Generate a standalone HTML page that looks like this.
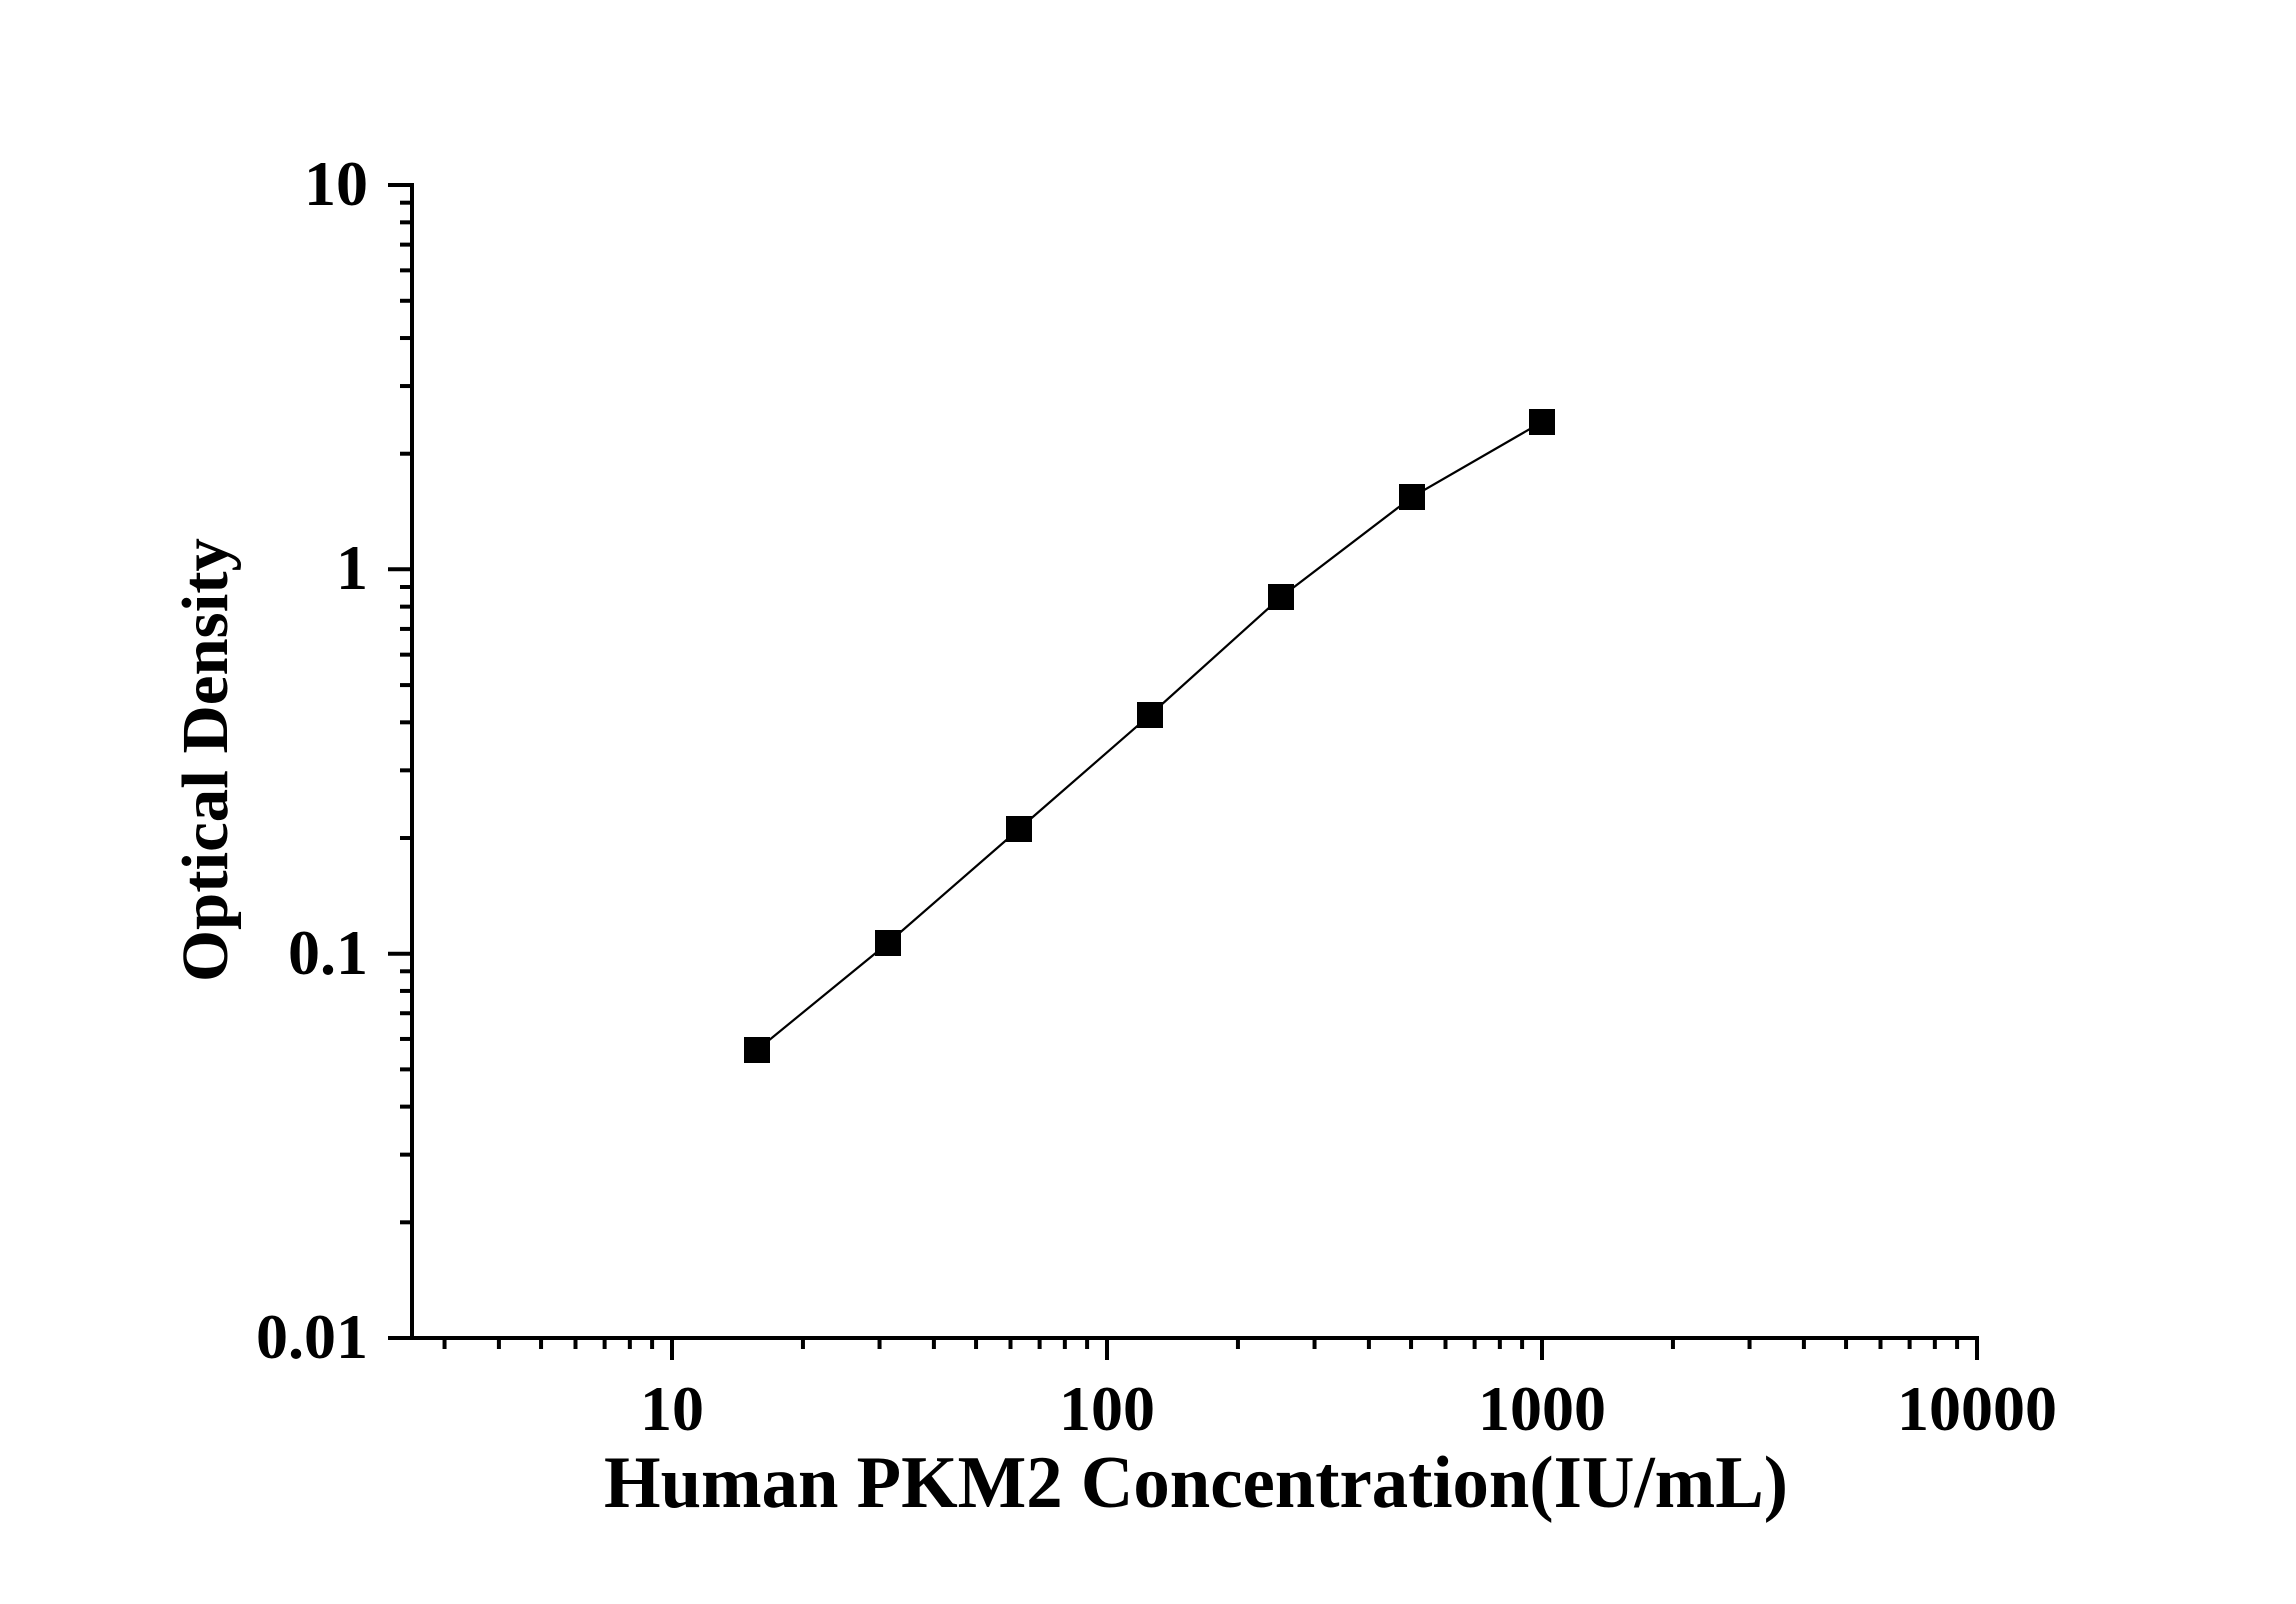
<!DOCTYPE html>
<html><head><meta charset="utf-8"><style>
html,body{margin:0;padding:0;background:#fff;}
svg{display:block;}
text{font-family:"Liberation Serif","Times New Roman",serif;font-weight:bold;fill:#000;}
</style></head><body>
<svg width="2296" height="1604" viewBox="0 0 2296 1604" xmlns="http://www.w3.org/2000/svg">
<rect width="2296" height="1604" fill="#fff"/>
<g stroke="#000" stroke-width="4" fill="none" stroke-linecap="butt">
<line x1="412" y1="183" x2="412" y2="1340"/>
<line x1="388" y1="1338" x2="1979" y2="1338"/>
<line x1="388" y1="185" x2="412" y2="185"/>
<line x1="388" y1="569.3" x2="412" y2="569.3"/>
<line x1="388" y1="953.7" x2="412" y2="953.7"/>
<line x1="672" y1="1338" x2="672" y2="1360"/>
<line x1="1107" y1="1338" x2="1107" y2="1360"/>
<line x1="1542" y1="1338" x2="1542" y2="1360"/>
<line x1="1977" y1="1336" x2="1977" y2="1360"/>
</g>
<g stroke="#000" stroke-width="4" id="minor"></g>
<polyline fill="none" stroke="#000" stroke-width="2.2" points="757,1050 888,943 1019,829 1150,715 1281,597 1412,497 1542,422"/>
<g fill="#000">
<rect x="744" y="1037" width="26" height="26"/>
<rect x="875" y="930" width="26" height="26"/>
<rect x="1006" y="816" width="26" height="26"/>
<rect x="1137" y="702" width="26" height="26"/>
<rect x="1268" y="584" width="26" height="26"/>
<rect x="1399" y="484" width="26" height="26"/>
<rect x="1529" y="409" width="26" height="26"/>
</g>
<g font-size="64" text-anchor="end">
<text x="368" y="205">10</text>
<text x="368" y="589">1</text>
<text x="368" y="974">0.1</text>
<text x="368" y="1358">0.01</text>
</g>
<g font-size="64" text-anchor="middle">
<text x="672" y="1430">10</text>
<text x="1107" y="1430">100</text>
<text x="1542" y="1430">1000</text>
<text x="1977" y="1430">10000</text>
</g>
<text x="1196" y="1507" font-size="74" text-anchor="middle" textLength="1184" lengthAdjust="spacingAndGlyphs">Human PKM2 Concentration(IU/mL)</text>
<text transform="translate(227,760) rotate(-90)" font-size="66" text-anchor="middle" textLength="444" lengthAdjust="spacingAndGlyphs">Optical Density</text>
</svg>
<script>
(function(){
var g=document.getElementById('minor'),ns='http://www.w3.org/2000/svg';
function L(a,b,c,d){var l=document.createElementNS(ns,'line');l.setAttribute('x1',a);l.setAttribute('y1',b);l.setAttribute('x2',c);l.setAttribute('y2',d);g.appendChild(l);}
var y0=1338,dy=384.3;
for(var dec=-2;dec<1;dec++){for(var k=2;k<=9;k++){var y=y0-dy*(Math.log10(k)+dec+2);L(400,y,412,y);}}
var x0=672,dx=435;
for(var dec=0;dec<4;dec++){for(var k=2;k<=9;k++){var lv=dec+Math.log10(k);var x=x0+dx*(lv-1);if(x>414&&x<1976)L(x,1338,x,1349);}}
})();
</script>
</body></html>
